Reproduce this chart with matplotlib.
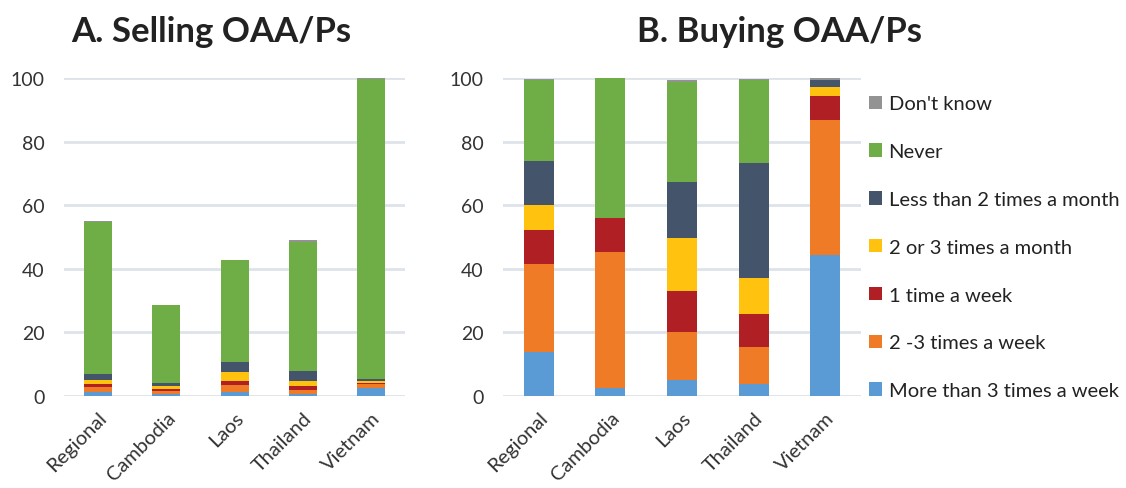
import numpy as np
import matplotlib
matplotlib.use("Agg")
import matplotlib.pyplot as plt
from matplotlib.patches import Patch

countries = ["Regional", "Cambodia", "Laos", "Thailand", "Vietnam"]
labels = ["More than 3 times a week", "2 -3 times a week", "1 time a week",
          "2 or 3 times a month", "Less than 2 times a month", "Never", "Don't know"]
colors = ["#5B9BD5", "#F07B26", "#B01F24", "#FFC20E", "#44546A", "#6FAD46", "#939393"]

# rows = frequency category (bottom to top), columns = countries
selling = np.array([
    [1.4, 0.7, 1.4, 0.5, 2.6],
    [1.5, 1.0, 2.2, 1.5, 1.1],
    [0.8, 0.6, 1.2, 1.2, 0.5],
    [1.4, 0.9, 2.9, 1.6, 0.6],
    [1.9, 1.0, 3.1, 3.2, 0.7],
    [47.8, 24.5, 32.1, 40.5, 94.2],
    [0.4, 0.0, 0.0, 0.7, 0.3],
])
buying = np.array([
    [13.9, 2.6, 4.9, 3.7, 44.5],
    [27.8, 42.6, 15.1, 11.6, 42.5],
    [10.6, 10.9, 12.9, 10.4, 7.5],
    [7.9, 0.0, 16.7, 11.3, 2.8],
    [13.8, 0.0, 17.6, 36.2, 2.2],
    [25.5, 43.9, 31.5, 26.3, 0.0],
    [0.3, 0.0, 0.8, 0.3, 0.5],
])

plt.rcParams['font.family'] = ['Lato', 'DejaVu Sans']

fig = plt.figure(figsize=(11.26, 4.89), dpi=100)
axA = fig.add_axes([0.0568, 0.188, 0.303, 0.650])
axB = fig.add_axes([0.4467, 0.188, 0.318, 0.650])


def stacked(ax, data, width):
    x = np.arange(len(countries))
    bottom = np.zeros(len(countries))
    for vals, c in zip(data, colors):
        ax.bar(x, vals, width, bottom=bottom, color=c, clip_on=False, zorder=3)
        bottom += vals
    ax.set_xlim(-0.5, len(countries) - 0.5)
    ax.set_ylim(0, 100)
    ax.set_yticks(range(0, 101, 20))
    ax.set_xticks(x)
    ax.set_xticklabels(countries, rotation=45, ha="right", rotation_mode="anchor",
                       fontsize=14.5, color="#333333")
    ax.tick_params(axis="y", labelsize=14, labelcolor="#333333", length=0, pad=14)
    ax.tick_params(axis="x", length=0, pad=9)
    ax.grid(axis="y", color="#DEE3EA", linewidth=2, zorder=0)
    for s in ax.spines.values():
        s.set_visible(False)


stacked(axA, selling, 0.41)
stacked(axB, buying, 0.42)

fig.text(0.188, 0.935, "A. Selling OAA/Ps", fontsize=25, fontweight="bold",
         ha="center", va="center", color="#222222")
fig.text(0.692, 0.935, "B. Buying OAA/Ps", fontsize=25, fontweight="bold",
         ha="center", va="center", color="#222222")

handles = [Patch(facecolor=c, label=l) for c, l in zip(colors, labels)][::-1]
fig.legend(handles=handles, loc="upper left", bbox_to_anchor=(0.756, 0.84),
           frameon=False, fontsize=14.5, handlelength=0.65, handleheight=0.65,
           handletextpad=0.3, labelspacing=1.53, labelcolor="#222222")

fig.savefig("out.png", dpi=100)
